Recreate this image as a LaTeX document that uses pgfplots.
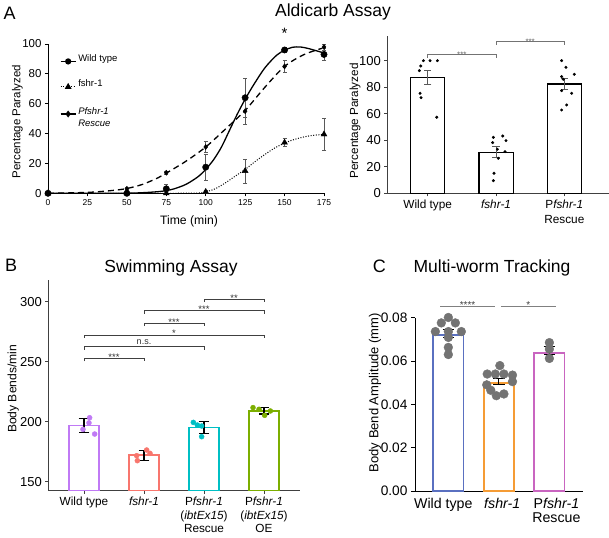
\documentclass[border=0pt]{standalone}
\usepackage{fontspec}
\setmainfont{Liberation Sans}
\usepackage{pgfplots}
\pgfplotsset{compat=1.18}
\definecolor{ggpurple}{HTML}{C07AF5}
\definecolor{ggred}{HTML}{F8766D}
\definecolor{ggcyan}{HTML}{00BFC4}
\definecolor{gggreen}{HTML}{7CAE00}
\definecolor{cblue}{HTML}{5A70C0}
\definecolor{corange}{HTML}{F59C35}
\definecolor{cpink}{HTML}{C965C0}
\definecolor{dotgray}{HTML}{737373}
\pgfplotsset{/pgf/number format/assume math mode=true}
\newcommand{\fs}[2]{\fontsize{#1}{#2}\selectfont}
\begin{document}
\begin{tikzpicture}
\path[use as bounding box] (0pt,0pt) rectangle (609pt,537pt);
% titles and panel letters
\node[anchor=base, inner sep=0pt, font=\fs{17.5}{20}] at (333pt,520.3pt) {Aldicarb Assay};
\node[anchor=base west, inner sep=0pt, font=\fs{18}{20}] at (3.3pt,517pt) {A};
\node[anchor=base, inner sep=0pt, font=\fs{17.5}{20}] at (171pt,264.7pt) {Swimming Assay};
\node[anchor=base west, inner sep=0pt, font=\fs{18}{20}] at (5pt,265pt) {B};
\node[anchor=base, inner sep=0pt, font=\fs{17.5}{20}] at (492pt,264.7pt) {Multi-worm Tracking};
\node[anchor=base west, inner sep=0pt, font=\fs{18}{20}] at (372.7pt,264.3pt) {C};

% ---------------- Panel A left ----------------
\begin{axis}[
  at={(48pt,343.7pt)}, anchor=south west, scale only axis,
  width=276pt, height=149.3pt,
  xmin=0, xmax=175, ymin=0, ymax=100,
  axis lines*=left, clip=false,
  axis line style={black, line width=0.9pt},
  xtick={0,25,50,75,100,125,150,175},
  xticklabels={0,25,50,75,100,125,150,175},
  ytick={0,20,40,60,80,100},
  yticklabels={0,20,40,60,80,100},
  tick align=outside, major tick length=3pt,
  tick style={black, line width=0.9pt},
  xticklabel style={font=\fs{8.5}{10}},
  yticklabel style={font=\fs{11.5}{13}},
  xlabel={Time (min)}, ylabel={Percentage Paralyzed},
  xlabel style={font=\fs{12.2}{14}, at={(axis description cs:0.511,-0.186)}, anchor=center},
  ylabel style={font=\fs{11.5}{13}, at={(axis description cs:-0.111,0.48)}, anchor=center},
  legend style={at={(0.043,0.944)}, anchor=north west, draw=none, fill=none,
    font=\fs{9.5}{12.4}, row sep=13pt, inner sep=0pt, cells={anchor=base west}},
  legend image code/.code={\draw[mark repeat=2,mark phase=2,#1] plot coordinates {(0pt,0pt) (7.5pt,0pt) (15pt,0pt)};},
]
\addlegendimage{black, line width=1.2pt, mark=*, mark size=2.5pt}
\addlegendentry{Wild type}
\addlegendimage{black, line width=1.1pt, dash pattern=on 1pt off 1.6pt, mark=triangle*, mark size=2.8pt, mark options={solid}}
\addlegendentry{fshr-1}
\addlegendimage{black, line width=1.2pt, mark=diamond*, mark size=2.5pt}
\addlegendentry{\begin{tabular}[t]{@{}l@{}}\textit{Pfshr-1}\\\textit{Rescue}\end{tabular}}
% fitted curves
\addplot[black, line width=1.3pt, smooth, forget plot] coordinates {
 (0,0) (25,0) (50,0.1) (60,0.4) (70,1.1) (75,1.8) (80,3) (87.5,6) (95,11) (100,16)
 (105,22.5) (110,31) (115,42) (120,53) (125,63) (130,72) (137.5,84) (145,92.5)
 (150,95.8) (155,97.8) (160,98) (165,97) (170,95.5) (175,94)};
\addplot[black, line width=1.3pt, dash pattern=on 6pt off 4pt, smooth, forget plot] coordinates {
 (0,0) (25,0.6) (40,1.8) (50,3.2) (60,6) (70,10.5) (75,13.5) (87.5,21.5) (100,31)
 (112.5,43) (125,55.5) (137.5,71) (150,85) (162.5,93) (175,97.5)};
\addplot[black, line width=1pt, dash pattern=on 1pt off 1.6pt, smooth, forget plot] coordinates {
 (0,0) (50,0) (75,0) (95,0.2) (100,1) (106,3) (112.5,7) (118,11) (125,16) (131,21)
 (137.5,26) (144,30.5) (150,33.6) (156,36) (162.5,37.8) (168,38.8) (175,39.5)};
% markers with error bars
\addplot[only marks, mark=*, mark size=3.2pt, black, forget plot,
  error bars/.cd, y dir=both, y explicit,
  error bar style={black!65, line width=0.6pt, solid},
  error mark options={black!65, line width=0.6pt, mark size=2pt, rotate=90}] coordinates {
 (0,0) +- (0,0) (50,0) +- (0,0) (75,3) +- (0,3) (100,17.5) +- (0,8.7)
 (125,64) +- (0,13.3) (150,96) +- (0,1.5) (175,93) +- (0,3.8)};
\addplot[only marks, mark=triangle*, mark size=3.4pt, black, forget plot,
  error bars/.cd, y dir=both, y explicit,
  error bar style={black!65, line width=0.6pt, solid},
  error mark options={black!65, line width=0.6pt, mark size=2pt, rotate=90}] coordinates {
 (0,0) +- (0,0) (50,0) +- (0,0) (75,0) +- (0,0) (100,1) +- (0,1)
 (125,15) +- (0,8) (150,34) +- (0,2.8) (175,39.5) +- (0,11)};
\addplot[only marks, mark=diamond*, mark size=2.6pt, black, forget plot,
  error bars/.cd, y dir=both, y explicit,
  error bar style={black!65, line width=0.6pt, solid},
  error mark options={black!65, line width=0.6pt, mark size=2pt, rotate=90}] coordinates {
 (0,0) +- (0,0) (50,3) +- (0,1) (75,13.8) +- (0,1) (100,31) +- (0,3.5)
 (125,55) +- (0,9) (150,85) +- (0,4) (175,98) +- (0,2)};
\node[font=\fs{15}{16}, anchor=center, inner sep=0pt] at (axis cs:150,107) {*};
\end{axis}

% ---------------- Panel A right ----------------
\begin{axis}[
  at={(387.3pt,343.7pt)}, anchor=south west, scale only axis,
  width=221.4pt, height=157.3pt,
  xmin=0.408, xmax=3.65, ymin=0, ymax=118.6,
  axis lines*=left, clip=false,
  axis line style={black!75, line width=0.8pt},
  tick style={black!75, line width=0.8pt},
  tick align=outside, major tick length=3pt,
  xtick={1,2,3}, xticklabels={Wild type, \textit{fshr-1}, {P\textit{fshr-1}\\Rescue}},
  ytick={0,20,40,60,80,100}, yticklabels={0,20,40,60,80,100},
  xticklabel style={font=\fs{11.8}{15.5}, align=center},
  yticklabel style={font=\fs{13}{15}},
  ylabel={Percentage Paralyzed},
  ylabel style={font=\fs{11.7}{13}, at={(axis description cs:-0.146,0.46)}, anchor=center},
]
\addplot[ybar, bar width=0.5, bar shift=0pt, fill=white, draw=black, line width=1.1pt]
  coordinates {(1,87.4) (2,31) (3,82.4)};
\addplot[only marks, mark=*, mark size=1.3pt, black] coordinates {
 (0.937,100) (1.034,100) (1.142,100) (0.898,96) (0.878,92.5) (0.888,75.4) (0.902,72.1) (1.132,57.3)
 (1.961,42.2) (2.098,43.2) (2.146,39.7) (1.951,38.2) (2.02,33.2) (2.132,31.4) (2.034,26.4) (1.971,15.1) (1.961,9.5)
 (2.961,100) (3.024,95) (3.146,89.7) (2.961,88) (2.985,86) (2.961,77.4) (3.107,75.4) (3.034,66.6) (2.961,62.8)};
\addplot[draw=none, mark=none,
  error bars/.cd, y dir=both, y explicit,
  error bar style={draw=black!65, line width=0.9pt},
  error mark options={draw=black!65, line width=0.9pt, mark size=3.7pt, rotate=90}] coordinates {
 (1,87.4) +- (0,5.4) (2,31) +- (0,4.2) (3,82.4) +- (0,4.4)};
\addplot[black!55, line width=0.6pt] coordinates {(1,102.3) (1,104.8) (2,104.8) (2,102.3)};
\addplot[black!55, line width=0.6pt] coordinates {(2,111.8) (2,114.8) (3,114.8) (3,111.8)};
\node[font=\fs{8}{9}, text=black!60, anchor=base, inner sep=0pt] at (axis cs:1.5,102.4) {***};
\node[font=\fs{8}{9}, text=black!60, anchor=base, inner sep=0pt] at (axis cs:2.5,112.4) {***};
\end{axis}

% ---------------- Panel B ----------------
\begin{axis}[
  at={(48.3pt,46.3pt)}, anchor=south west, scale only axis,
  width=251.7pt, height=210.7pt,
  xmin=0.405, xmax=4.6, ymin=142.5, ymax=318,
  axis lines*=left,
  axis line style={black!75, line width=0.8pt},
  tick style={black!75, line width=0.8pt},
  tick align=outside, major tick length=3pt,
  xtick={1,2,3,4},
  xticklabels={Wild type, \textit{fshr-1}, {P\textit{fshr-1}\\(\textit{ibtEx15})\\Rescue}, {P\textit{fshr-1}\\(\textit{ibtEx15})\\OE}},
  ytick={150,200,250,300}, yticklabels={150,200,250,300},
  xticklabel style={font=\fs{11.8}{13.5}, align=center},
  yticklabel style={font=\fs{13}{15}},
  ylabel={Body Bends/min},
  ylabel style={font=\fs{12.1}{14}, at={(axis description cs:-0.139,0.483)}, anchor=center},
]
\addplot[ybar, bar width=0.5, bar shift=0pt, fill=white, draw=ggpurple, line width=1.1pt] coordinates {(1,196.7)};
\addplot[ybar, bar width=0.5, bar shift=0pt, fill=white, draw=ggred, line width=1.1pt] coordinates {(2,172.2)};
\addplot[ybar, bar width=0.5, bar shift=0pt, fill=white, draw=ggcyan, line width=1.1pt] coordinates {(3,195.0)};
\addplot[ybar, bar width=0.5, bar shift=0pt, fill=white, draw=gggreen, line width=1.1pt] coordinates {(4,208.9)};
\addplot[only marks, mark=*, mark size=2.5pt, ggpurple] coordinates {(1.094,203.3) (1.083,199) (0.983,193.6) (1.178,189.7)};
\addplot[only marks, mark=*, mark size=2.5pt, ggred] coordinates {(2.044,176.4) (2.1,173.6) (1.878,171.7) (1.889,167.5)};
\addplot[only marks, mark=*, mark size=2.5pt, ggcyan] coordinates {(2.822,199.4) (2.889,197.2) (2.961,196.4) (2.961,187.5)};
\addplot[only marks, mark=*, mark size=2.5pt, gggreen] coordinates {(3.817,211.7) (3.917,210.3) (4.106,208.9) (4.011,205.3)};
\addplot[draw=none, mark=none,
  error bars/.cd, y dir=both, y explicit,
  error bar style={draw=black, line width=1.1pt},
  error mark options={draw=black, line width=1.1pt, mark size=5.3pt, rotate=90}] coordinates {
 (1,196.65) +- (0,5.85) (2,172.05) +- (0,4.05) (3,195.15) +- (0,4.85) (4,209.05) +- (0,2.65)};
% significance brackets
\addplot[black!75, line width=0.7pt] coordinates {(1,250.3) (1,252.8) (2,252.8) (2,250.3)};
\addplot[black!75, line width=0.7pt] coordinates {(1,260) (1,262.5) (3,262.5) (3,260)};
\addplot[black!75, line width=0.7pt] coordinates {(1,269.7) (1,272.2) (4,272.2) (4,269.7)};
\addplot[black!75, line width=0.7pt] coordinates {(2,279.5) (2,282) (3,282) (3,279.5)};
\addplot[black!75, line width=0.7pt] coordinates {(2,290) (2,292.5) (4,292.5) (4,290)};
\addplot[black!75, line width=0.7pt] coordinates {(3,299.5) (3,302) (4,302) (4,299.5)};
\node[font=\fs{9.5}{10}, text=black!80, anchor=base, inner sep=0pt] at (axis cs:1.5,251.2) {***};
\node[font=\fs{9}{10}, text=black!80, anchor=base, inner sep=0pt] at (axis cs:2,264.2) {n.s.};
\node[font=\fs{9.5}{10}, text=black!80, anchor=base, inner sep=0pt] at (axis cs:2.5,270.6) {*};
\node[font=\fs{9.5}{10}, text=black!80, anchor=base, inner sep=0pt] at (axis cs:2.5,280.4) {***};
\node[font=\fs{9.5}{10}, text=black!80, anchor=base, inner sep=0pt] at (axis cs:3,290.9) {***};
\node[font=\fs{9.5}{10}, text=black!80, anchor=base, inner sep=0pt] at (axis cs:3.5,300.4) {**};
\end{axis}

% ---------------- Panel C ----------------
\begin{axis}[
  at={(415pt,46pt)}, anchor=south west, scale only axis,
  width=167.7pt, height=173.3pt,
  xmin=0.34, xmax=3.66, ymin=0, ymax=0.08,
  axis lines*=left, clip=false,
  axis line style={black, line width=0.9pt},
  tick style={black, line width=0.9pt},
  tick align=outside, major tick length=4pt,
  scaled y ticks=false,
  xtick={0.901,2.067,3.139}, xticklabels={Wild type, \textit{fshr-1}, {P\textit{fshr-1}\\Rescue}},
  xtick style={draw=none},
  ytick={0,0.02,0.04,0.06,0.08}, yticklabels={0.00,0.02,0.04,0.06,0.08},
  xticklabel style={font=\fs{14.2}{14}, align=center},
  yticklabel style={font=\fs{13.7}{15}},
  ylabel={Body Bend Amplitude (mm)},
  ylabel style={font=\fs{13}{15}, at={(axis description cs:-0.239,0.567)}, anchor=center},
]
\addplot[ybar, bar width=0.6, bar shift=0pt, fill=white, draw=cblue, line width=1.6pt] coordinates {(1,0.072)};
\addplot[ybar, bar width=0.6, bar shift=0pt, fill=white, draw=corange, line width=1.6pt] coordinates {(2,0.0498)};
\addplot[ybar, bar width=0.6, bar shift=0pt, fill=white, draw=cpink, line width=1.6pt] coordinates {(3,0.0638)};
\addplot[only marks, mark=*, mark size=4.4pt, dotgray, mark options={draw=none, fill=dotgray}] coordinates {
 (1,0.0801) (0.861,0.0776) (1.139,0.0776) (0.743,0.0736) (1,0.0736) (1.257,0.0736) (1,0.0709) (1,0.0663) (1,0.0630)
 (2.02,0.0579) (1.77,0.0540) (1.93,0.0540) (2.10,0.0540) (2.27,0.0535) (1.76,0.0490) (2.27,0.0505) (1.84,0.0465) (1.95,0.0440) (2.10,0.0448)
 (3,0.0685) (3,0.0655) (3,0.0612)};
\addplot[draw=none, mark=none,
  error bars/.cd, y dir=both, y explicit,
  error bar style={draw=black, line width=1pt},
  error mark options={draw=black, line width=1pt, mark size=5.8pt, rotate=90}] coordinates {
 (1,0.07265) +- (0,0.00195) (2,0.05045) +- (0,0.00135) (3,0.06485) +- (0,0.00195)};
\addplot[black!50, line width=0.8pt] coordinates {(0.836,0.0852) (1.925,0.0852)};
\addplot[black!50, line width=0.8pt] coordinates {(2.04,0.0852) (3.13,0.0852)};
\node[font=\fs{10}{11}, text=black!75, anchor=base, inner sep=0pt] at (axis cs:1.38,0.0844) {****};
\node[font=\fs{10}{11}, text=black!75, anchor=base, inner sep=0pt] at (axis cs:2.585,0.0844) {*};
\end{axis}
\end{tikzpicture}
\end{document}
